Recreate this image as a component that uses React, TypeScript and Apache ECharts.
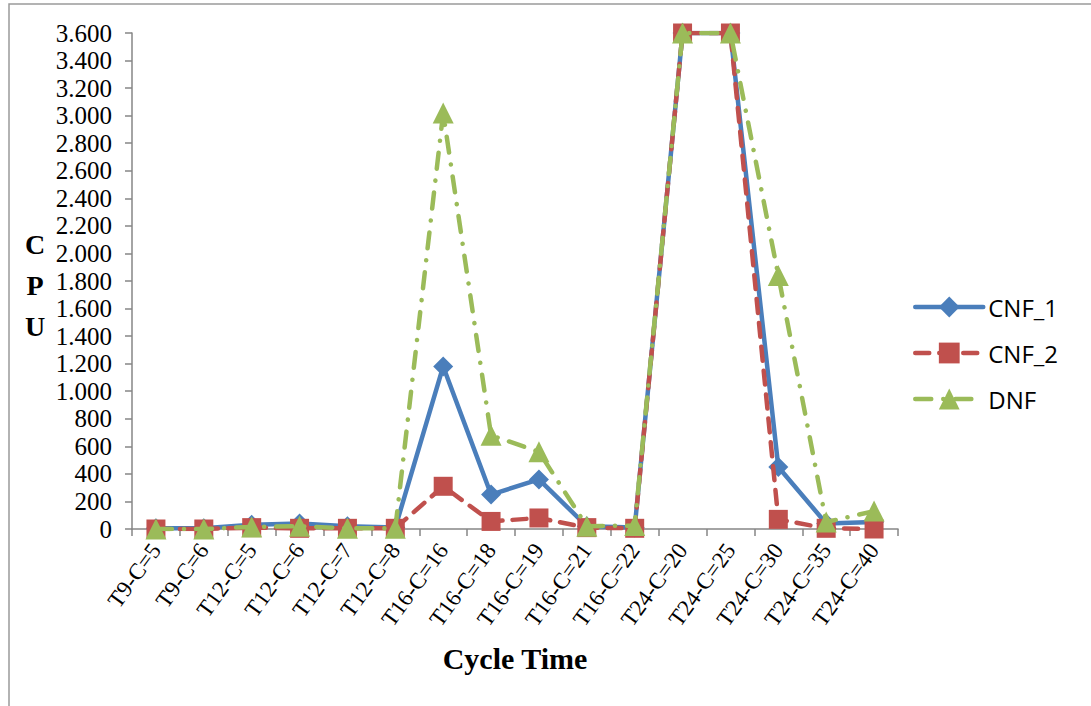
import React, { useEffect, useRef } from "react";
import * as echarts from "echarts";

const categories = [
  "T9-C=5", "T9-C=6", "T12-C=5", "T12-C=6", "T12-C=7", "T12-C=8",
  "T16-C=16", "T16-C=18", "T16-C=19", "T16-C=21", "T16-C=22",
  "T24-C=20", "T24-C=25", "T24-C=30", "T24-C=35", "T24-C=40",
];

const cnf1 = [5, 5, 30, 40, 20, 10, 1180, 250, 360, 20, 10, 3600, 3600, 450, 40, 50];
const cnf2 = [0, 0, 10, 5, 5, 5, 310, 55, 80, 10, 5, 3600, 3600, 70, 5, 0];
const dnf = [0, 0, 15, 20, 5, 5, 3020, 680, 560, 20, 25, 3600, 3600, 1840, 50, 130];

const yTicks = { min: 0, max: 3600, interval: 200 };

const formatThousands = (v: number) =>
  String(v).replace(/\B(?=(\d{3})+(?!\d))/g, ".");

export default function App() {
  const ref = useRef<HTMLDivElement>(null);

  useEffect(() => {
    document.body.style.margin = "0";
    if (!ref.current) return;
    const chart = echarts.init(ref.current, undefined, { renderer: "svg" });
    const serif = "'Liberation Serif', 'Times New Roman', serif";
    const sans = "'Open Sans', 'Liberation Sans', sans-serif";
    chart.setOption({
      animation: false,
      backgroundColor: "#ffffff",
      grid: { left: 132, right: 193, top: 33, bottom: 177, containLabel: false },
      xAxis: {
        type: "category",
        data: categories,
        boundaryGap: true,
        name: "Cycle Time",
        nameLocation: "middle",
        nameGap: 114,
        nameTextStyle: { fontFamily: serif, fontWeight: "bold", fontSize: 30, color: "#000" },
        axisLine: { lineStyle: { color: "#868686", width: 1.5 } },
        axisTick: { show: true, length: 7, lineStyle: { color: "#868686", width: 1.5 } },
        axisLabel: {
          rotate: 54,
          interval: 0,
          margin: 17,
          padding: [34, 0, 0, 0],
          fontFamily: serif,
          fontSize: 23,
          color: "#000",
        },
        splitLine: { show: false },
      },
      yAxis: {
        type: "value",
        min: yTicks.min,
        max: yTicks.max,
        interval: yTicks.interval,
        axisLine: { show: true, lineStyle: { color: "#868686", width: 1.5 } },
        axisTick: { show: true, length: 7, lineStyle: { color: "#868686", width: 1.5 } },
        axisLabel: {
          margin: 20,
          fontFamily: serif,
          fontSize: 25,
          color: "#000",
          formatter: (v: number) => formatThousands(v),
        },
        splitLine: { show: false },
      },
      legend: {
        orient: "vertical",
        left: 913,
        top: 295,
        padding: 0,
        itemWidth: 68,
        itemHeight: 26,
        itemGap: 22,
        lineStyle: { width: 4.5 },
        textStyle: { fontFamily: sans, fontSize: 24, color: "#000" },
        data: ["CNF_1", "CNF_2", "DNF"],
      },
      graphic: [
        {
          type: "rect",
          shape: { x: 9, y: 4, width: 1200, height: 800 },
          style: { fill: "none", stroke: "#9a9a9a", lineWidth: 1.5 },
          silent: true,
        },
        {
          type: "text",
          x: 35,
          y: 244,
          style: {
            text: "C",
            font: `bold 28px ${serif}`,
            fill: "#000",
            align: "center",
            verticalAlign: "middle",
          },
        },
        {
          type: "text",
          x: 35,
          y: 285,
          style: {
            text: "P",
            font: `bold 28px ${serif}`,
            fill: "#000",
            align: "center",
            verticalAlign: "middle",
          },
        },
        {
          type: "text",
          x: 35,
          y: 326,
          style: {
            text: "U",
            font: `bold 28px ${serif}`,
            fill: "#000",
            align: "center",
            verticalAlign: "middle",
          },
        },
      ],
      series: [
        {
          name: "CNF_1",
          type: "line",
          data: cnf1,
          symbol: "diamond",
          symbolSize: 20,
          showAllSymbol: true,
          itemStyle: { color: "#4a7ebb" },
          lineStyle: { color: "#4a7ebb", width: 4.5, cap: "round", join: "round" },
          z: 2,
        },
        {
          name: "CNF_2",
          type: "line",
          data: cnf2,
          symbol: "rect",
          symbolSize: 19,
          showAllSymbol: true,
          itemStyle: { color: "#c0504d" },
          lineStyle: { color: "#c0504d", width: 4.5, type: [14, 10], cap: "round", join: "round" },
          z: 3,
        },
        {
          name: "DNF",
          type: "line",
          data: dnf,
          symbol: "triangle",
          symbolSize: 21,
          showAllSymbol: true,
          itemStyle: { color: "#9bbb59" },
          lineStyle: { color: "#9bbb59", width: 4.5, type: [16, 12, 0.1, 12], cap: "round", join: "round" },
          z: 4,
        },
      ],
    });
    return () => chart.dispose();
  }, []);

  return <div ref={ref} style={{ width: 1091, height: 706 }} />;
}
